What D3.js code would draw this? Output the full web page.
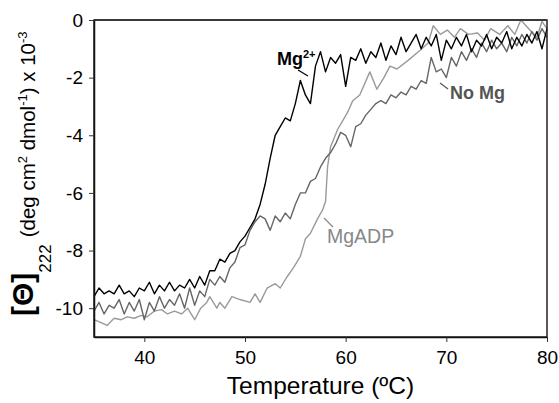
<!DOCTYPE html>
<html>
<head>
<meta charset="utf-8">
<script src="https://cdn.jsdelivr.net/npm/d3@7"></script>
<style>
  body { margin: 0; background: #fff; }
  svg { display: block; font-family: "Liberation Sans", Arial, sans-serif; }
</style>
</head>
<body>
<div id="graph"></div>
<script>
// temperatures for the two densely sampled curves (0.5 ºC steps)
var tempDense = d3.range(35, 80.01, 0.5);

// Mg2+ (black)
var mgValues = [
  -9.6, -9.3, -9.5, -9.4, -9.5, -9.2, -9.5, -9.4, -9.6, -9.3,
  -9.4, -9.1, -9.5, -9.2, -9.4, -9.1, -9.4, -9.2, -9.3, -9.0,
  -9.3, -8.9, -9.2, -8.7, -8.7, -8.3, -8.4, -8.1, -8.0, -7.7,
  -7.5, -7.2, -6.9, -6.4, -5.7, -4.8, -4.0, -3.7, -3.4, -3.5,
  -2.9, -2.1, -2.6, -2.9, -1.6, -1.1, -1.8, -1.3, -1.5, -1.2,
  -2.3, -1.3, -1.4, -1.0, -1.5, -1.1, -1.3, -0.8, -1.4, -0.9,
  -1.2, -0.6, -1.1, -0.8, -0.5, -1.0, -0.6, -0.9, -0.5, -1.4,
  -0.7, -1.0, -0.6, -0.9, -0.5, -1.1, -0.7, -0.9, -0.5, -1.0,
  -0.6, -0.8, -0.4, -1.0, -0.6, -0.9, -0.5, -0.8, -0.4, -1.0,
  -0.3
];

// No Mg (dark grey)
var noMgValues = [
  -10.1, -9.8, -10.2, -9.9, -10.0, -9.7, -10.2, -9.8, -10.1, -9.7,
  -10.4, -9.8, -10.1, -9.6, -10.0, -9.7, -9.9, -9.5, -10.0, -9.3,
  -9.9, -9.4, -9.6, -9.0, -9.2, -8.9, -9.1, -8.6, -8.4, -7.9,
  -7.8, -7.3, -7.0, -6.8, -6.9, -7.3, -6.8, -7.0, -6.7, -6.9,
  -6.4, -6.0, -6.0, -5.6, -5.5, -5.1, -4.8, -4.6, -4.3, -3.9,
  -4.0, -4.4, -3.7, -3.6, -3.3, -3.1, -2.9, -2.8, -2.9, -2.6,
  -2.7, -2.5, -2.6, -2.3, -2.4, -2.1, -2.2, -1.3, -1.8, -1.7,
  -2.0, -1.3, -1.6, -1.1, -1.4, -1.0, -1.3, -0.8, -1.1, -0.7,
  -1.0, -0.8, -1.1, -0.6, -0.9, -0.5, -0.8, -0.4, -0.7, -0.3,
  -0.6
];

// MgADP (light grey), sparser sampling
var tempADP = [
  35, 35.7, 36.3, 37, 37.7, 38.3, 39, 39.7, 40.3, 41,
  41.7, 42.3, 43, 43.7, 44.3, 45, 45.6, 46.2, 46.5, 47.2,
  47.5, 48, 48.7, 49.5, 50.5, 51, 51.5, 52.2, 53, 53.5,
  54.2, 54.8, 55.5, 56, 56.5, 57.2, 57.7, 58, 58.2, 58.5,
  59.2, 60.2, 60.7, 61.4, 62.4, 63.1, 63.8, 64.4, 65.1, 66.2,
  67.4, 68.2, 68.7, 69.4, 70.1, 70.8, 71.4, 72.2, 73.1, 73.8,
  74.4, 75.3, 76.1, 76.8, 77.4, 78.3, 79, 79.5, 80
];
var adpValues = [
  -10.4, -10.5, -10.6, -10.35, -10.4, -10.3, -10.35, -10.25, -10.3, -10.1,
  -10.05, -10.2, -10.1, -10.2, -10.0, -10.4, -10.0, -9.8, -9.6, -10.0,
  -9.8, -10.0, -9.6, -9.7, -9.8, -9.5, -9.8, -9.3, -9.15, -9.3,
  -8.9, -8.6, -8.2, -7.6, -7.4, -6.9, -6.6, -6.3, -5.1, -4.4,
  -3.8, -3.2, -2.8, -2.6, -1.8, -2.4, -2.0, -1.6, -1.7, -1.4,
  -1.05, -0.8, -0.2, -0.5, -0.35, -0.6, -0.3, -0.5, -0.45, -0.7,
  -0.3, -0.5, -0.2, -0.5, 0.0, -0.35, -0.6, -0.05, -0.3
];

var xTicks = [40, 50, 60, 70, 80];
var yTicks = [0, -2, -4, -6, -8, -10];

var W = 559, H = 403;
var margin = { top: 20, right: 12, bottom: 66, left: 94 };
var width = W - margin.left - margin.right,
    height = H - margin.top - margin.bottom;

var x = d3.scaleLinear().domain([35, 80]).range([0, width]);
var y = d3.scaleLinear().domain([-11, 0]).range([height, 0]);

var svg = d3.select("#graph").append("svg")
    .attr("width", W)
    .attr("height", H);

var g = svg.append("g")
    .attr("transform", `translate(${margin.left},${margin.top})`);

var line = d3.line()
    .x(d => x(d[0]))
    .y(d => y(d[1]));

var series = [
  { name: "MgADP", color: "#9a9a9a", pts: d3.zip(tempADP, adpValues) },
  { name: "No Mg", color: "#666", pts: d3.zip(tempDense, noMgValues) },
  { name: "Mg", color: "#000", pts: d3.zip(tempDense, mgValues) }
];

g.append("g")
  .selectAll("path")
  .data(series)
  .join("path")
    .attr("fill", "none")
    .attr("stroke", d => d.color)
    .attr("stroke-width", 1.4)
    .attr("stroke-linejoin", "round")
    .attr("d", d => line(d.pts));

// frame
g.append("rect")
    .attr("width", width)
    .attr("height", height)
    .attr("fill", "none")
    .attr("stroke", "#222")
    .attr("stroke-width", 1.5);
g.append("line")
    .attr("x1", 0).attr("x2", width)
    .attr("y1", 0).attr("y2", 0)
    .attr("stroke", "#3a3a3a")
    .attr("stroke-width", 2.2);

// axes
var xAxis = g.append("g")
    .attr("transform", `translate(0,${height})`)
    .call(d3.axisBottom(x).tickValues(xTicks).tickSize(5).tickPadding(9).tickSizeOuter(0));
var yAxis = g.append("g")
    .call(d3.axisLeft(y).tickValues(yTicks).tickSize(5).tickPadding(6).tickSizeOuter(0)
      .tickFormat(d3.format("d")));

[xAxis, yAxis].forEach(a => {
  a.select(".domain").attr("stroke", "#111").attr("stroke-width", 1.5);
  a.selectAll(".tick line").attr("stroke", "#333");
  a.selectAll("text")
    .attr("fill", "#000")
    .style("font-family", "'Liberation Sans', Arial, sans-serif")
    .style("font-size", "19px");
});
yAxis.selectAll("text").text(d => d === 0 ? "0" : "-" + Math.abs(d));

// x label
svg.append("text")
    .attr("x", margin.left + width / 2)
    .attr("y", 394)
    .attr("text-anchor", "middle")
    .style("font-size", "24.5px")
    .text("Temperature (ºC)");

// y label, rotated
var yl = svg.append("text")
    .attr("transform", "translate(33,316) rotate(-90)")
    .attr("x", 0)
    .attr("y", 0);
yl.append("tspan").style("font-weight", "bold").style("font-size", "30px").text("[Θ]");
yl.append("tspan").style("font-size", "17px").attr("dy", 18).text("222");
yl.append("tspan").style("font-size", "20.5px").attr("dx", 7).attr("dy", -16).text("(deg cm");
yl.append("tspan").style("font-size", "13px").attr("dy", -8).text("2");
yl.append("tspan").style("font-size", "20.5px").attr("dy", 8).text(" dmol");
yl.append("tspan").style("font-size", "13px").attr("dy", -8).text("-1");
yl.append("tspan").style("font-size", "20.5px").attr("dy", 8).text(") x 10");
yl.append("tspan").style("font-size", "13px").attr("dy", -8).text("-3");

// curve labels with leader lines
var labels = [
  { tx: 277, ty: 65, color: "#000", weight: "bold", text: "Mg", sup: "2+", l: [[298, 70], [308, 76]] },
  { tx: 450, ty: 99, color: "#555", weight: "bold", text: "No Mg", l: [[440, 83], [448, 89]] },
  { tx: 327, ty: 243, color: "#888", weight: "normal", text: "MgADP", l: [[324, 218], [333, 227]] }
];
labels.forEach(d => {
  svg.append("line")
    .attr("x1", d.l[0][0]).attr("y1", d.l[0][1])
    .attr("x2", d.l[1][0]).attr("y2", d.l[1][1])
    .attr("stroke", d.color)
    .attr("stroke-width", 1.2);
  var t = svg.append("text")
    .attr("x", d.tx)
    .attr("y", d.ty)
    .attr("fill", d.color)
    .style("font-weight", d.weight)
    .style("font-size", d.weight === "bold" ? "18px" : "19.5px")
    .text(d.text);
  if (d.sup) {
    t.append("tspan").attr("dy", -7).style("font-size", "11px").text(d.sup);
  }
});
</script>
</body>
</html>
